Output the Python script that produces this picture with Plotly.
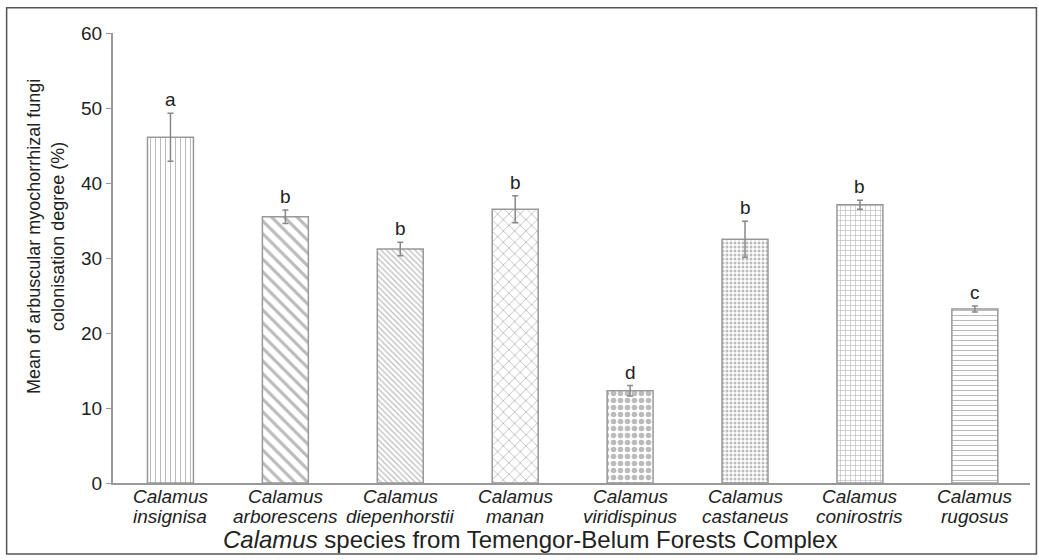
import plotly.graph_objects as go

species = ["insignisa", "arborescens", "diepenhorstii", "manan",
           "viridispinus", "castaneus", "conirostris", "rugosus"]
genus = "Calamus"
means = [46.1, 35.5, 31.2, 36.5, 12.3, 32.5, 37.1, 23.2]
errors = [3.2, 0.9, 0.9, 1.8, 0.7, 2.4, 0.6, 0.4]
letters = ["a", "b", "b", "b", "d", "b", "b", "c"]
patterns = ["|", "\\", "\\", "x", ".", ".", "+", "-"]
pattern_sizes = [5, 9, 4, 8, 7, 4, 5, 5]
pattern_solidity = [0.2, 0.35, 0.3, 0.2, 0.5, 0.45, 0.25, 0.2]

xs = list(range(len(species)))

fig = go.Figure()
fig.add_trace(go.Bar(
    x=xs, y=means, width=0.4,
    error_y=dict(type="data", array=errors, color="#888", thickness=1.5, width=3),
    marker=dict(
        color="white",
        line=dict(color="#999", width=1.5),
        pattern=dict(shape=patterns, size=pattern_sizes, solidity=pattern_solidity,
                     fgcolor="#777", bgcolor="white", fillmode="overlay"),
    ),
    showlegend=False,
))

for x, m, e, l in zip(xs, means, errors, letters):
    fig.add_annotation(x=x, y=m + e, text=l, showarrow=False, yanchor="bottom",
                       yshift=1, font=dict(size=19, color="#222"))

# two-line category labels
for x, s in zip(xs, species):
    fig.add_annotation(x=x, xref="x", yref="paper", y=-0.030, yanchor="middle",
                       xanchor="center", text=f"<i>{genus}</i>", showarrow=False,
                       font=dict(size=19, color="#222"))
    fig.add_annotation(x=x, xref="x", yref="paper", y=-0.074, yanchor="middle",
                       xanchor="center", text=f"<i>{s}</i>", showarrow=False,
                       font=dict(size=19, color="#222"))

fig.add_annotation(xref="paper", yref="paper", x=-0.073, y=0.547, textangle=-90,
                   xanchor="center", yanchor="middle",
                   text="Mean of arbuscular myochorrhizal fungi<br>colonisation degree (%)",
                   showarrow=False, font=dict(size=18, color="#222"))
fig.add_annotation(xref="paper", yref="paper", x=0.455, y=-0.125,
                   xanchor="center", yanchor="middle",
                   text="<i>Calamus</i> species from Temengor-Belum Forests Complex",
                   showarrow=False, font=dict(size=24, color="#222"))

fig.add_shape(type="rect", xref="paper", yref="paper", x0=-0.116, x1=1.007,
              y0=-0.158, y1=1.056, line=dict(color="#555", width=1.5))

fig.update_layout(
    width=1039, height=560,
    margin=dict(l=113, r=9, t=33, b=77),
    plot_bgcolor="white", paper_bgcolor="white",
    font=dict(family="Liberation Sans, Arial, sans-serif", size=19, color="#222"),
    xaxis=dict(range=[-0.5, 7.48], tickmode="array", tickvals=xs,
               showticklabels=False,
               showline=True, linecolor="#999", linewidth=2, ticks="", showgrid=False,
               zeroline=False),
    yaxis=dict(range=[0, 60], tickvals=[0, 10, 20, 30, 40, 50, 60],
               showline=True, linecolor="#999", linewidth=2, ticks="outside",
               ticklen=5, tickcolor="#999", showgrid=False, zeroline=False,
               tickfont=dict(size=19, color="#222")),
    bargap=0.6,
)

fig.write_html("out.html", config={"displayModeBar": False},
               post_script="document.body.style.margin='0';")
